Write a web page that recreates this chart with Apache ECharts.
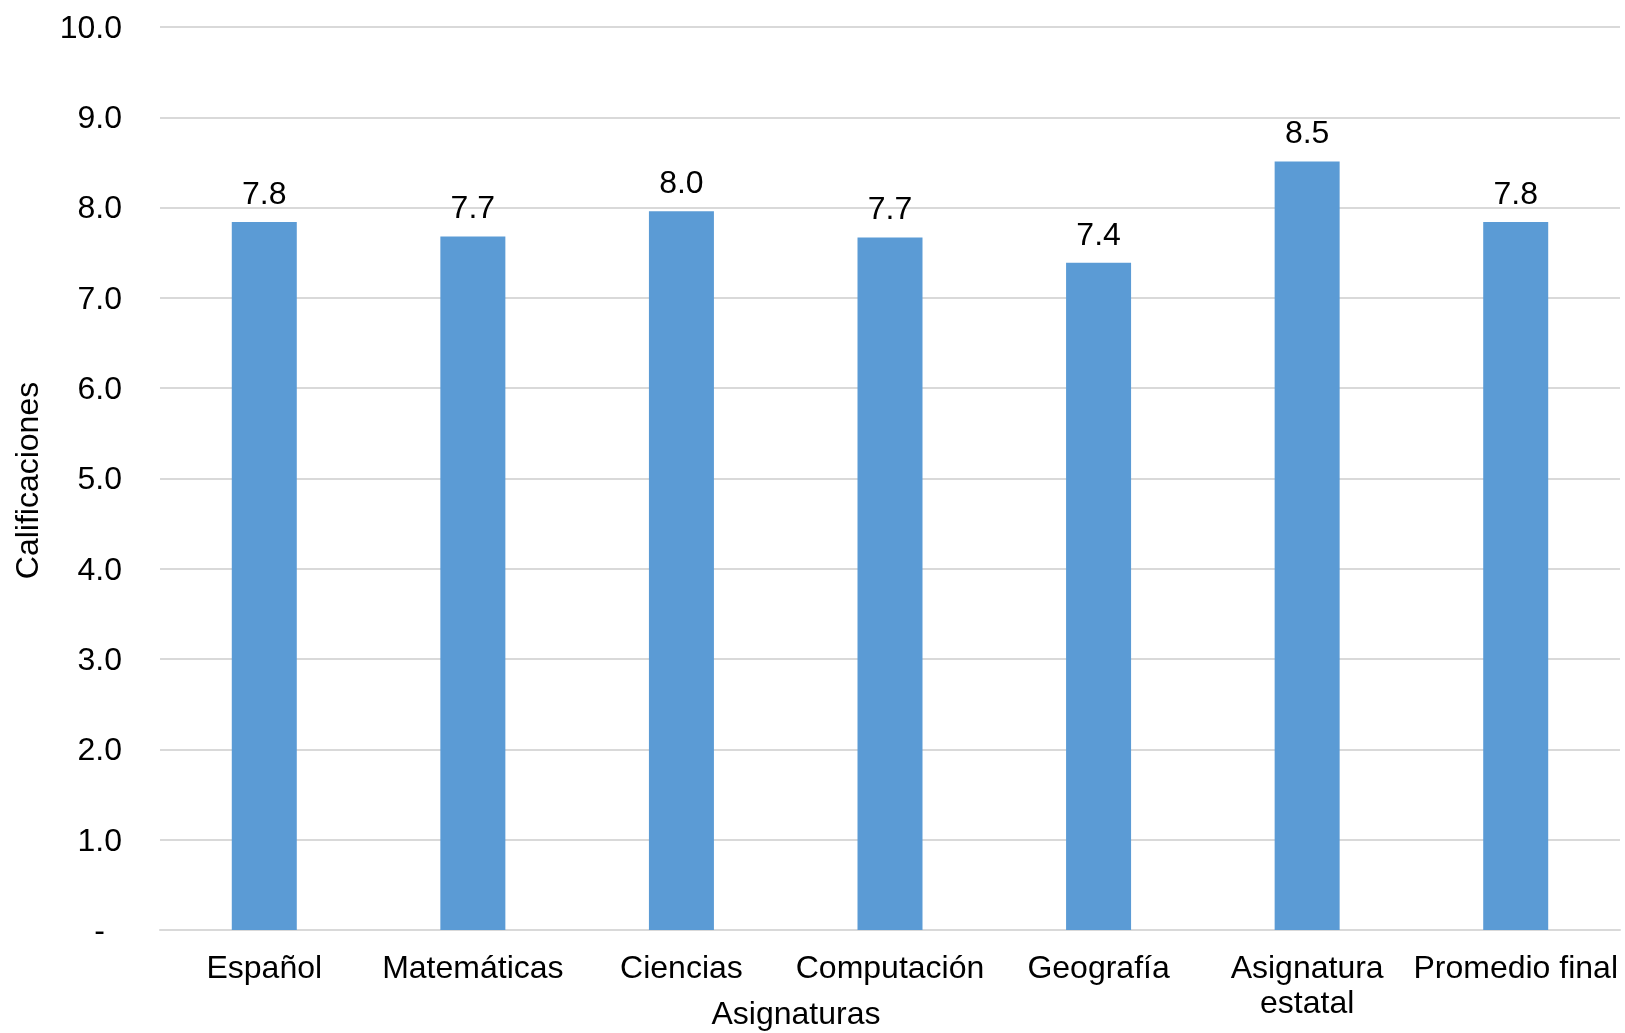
<!DOCTYPE html>
<html>
<head>
<meta charset="utf-8">
<style>
  html, body { margin: 0; padding: 0; background: #ffffff; }
  #chart { width: 1625px; height: 1033px; }
</style>
<script src="https://cdn.jsdelivr.net/npm/echarts@6/dist/echarts.min.js"></script>
</head>
<body>
<div id="chart"></div>
<script>
// Subjects on the category axis
const categories = ['Español', 'Matemáticas', 'Ciencias', 'Computación', 'Geografía', 'Asignatura\nestatal', 'Promedio final'];
// Average grade per subject
const grades = [7.84, 7.68, 7.96, 7.67, 7.39, 8.51, 7.84];
// Value axis range and step
const yMin = 0;
const yMax = 10;
const yStep = 1;

const FONT = '"Liberation Sans", Arial, sans-serif';
const FS = 32;
const chart = echarts.init(document.getElementById('chart'), null, { renderer: 'canvas' });

chart.setOption({
  animation: false,
  backgroundColor: '#ffffff',
  textStyle: { fontFamily: FONT, color: '#000000' },
  grid: { left: 160, right: 5, top: 27, bottom: 103, containLabel: false, outerBoundsMode: 'none' },
  xAxis: {
    type: 'category',
    data: categories,
    name: 'Asignaturas',
    nameLocation: 'middle',
    nameGap: 69,
    nameMoveOverlap: false,
    nameTextStyle: { fontFamily: FONT, fontSize: FS, color: '#000000', padding: [0, 188, 0, 0] },
    axisLine: { show: true, lineStyle: { color: '#d9d9d9', width: 2 } },
    axisTick: { show: false },
    axisLabel: { fontFamily: FONT, fontSize: FS, color: '#000000', margin: 22, lineHeight: 35, interval: 0 }
  },
  yAxis: {
    type: 'value',
    min: yMin,
    max: yMax,
    interval: yStep,
    name: 'Calificaciones',
    nameLocation: 'middle',
    nameGap: 115,
    nameMoveOverlap: false,
    nameTextStyle: { fontFamily: FONT, fontSize: FS, color: '#000000', padding: [0, 4, 0, 0] },
    axisLine: { show: false },
    axisTick: { show: false },
    splitLine: { show: true, lineStyle: { color: '#d9d9d9', width: 2 } },
    axisLabel: {
      fontFamily: FONT,
      fontSize: FS,
      color: '#000000',
      margin: 38,
      padding: [4, 0, 0, 0],
      formatter: function (v) { return v === 0 ? '{dash|-}' : v.toFixed(1); },
      rich: { dash: { fontFamily: FONT, fontSize: FS, color: '#000000', padding: [0, 17, 0, 0] } }
    }
  },
  series: [{
    type: 'bar',
    data: grades,
    barWidth: 65,
    itemStyle: { color: '#5b9bd5' },
    label: {
      show: true,
      position: 'top',
      distance: 11,
      fontFamily: FONT,
      fontSize: FS,
      color: '#000000',
      formatter: function (p) { return p.value.toFixed(1); }
    }
  }]
});
</script>
</body>
</html>
